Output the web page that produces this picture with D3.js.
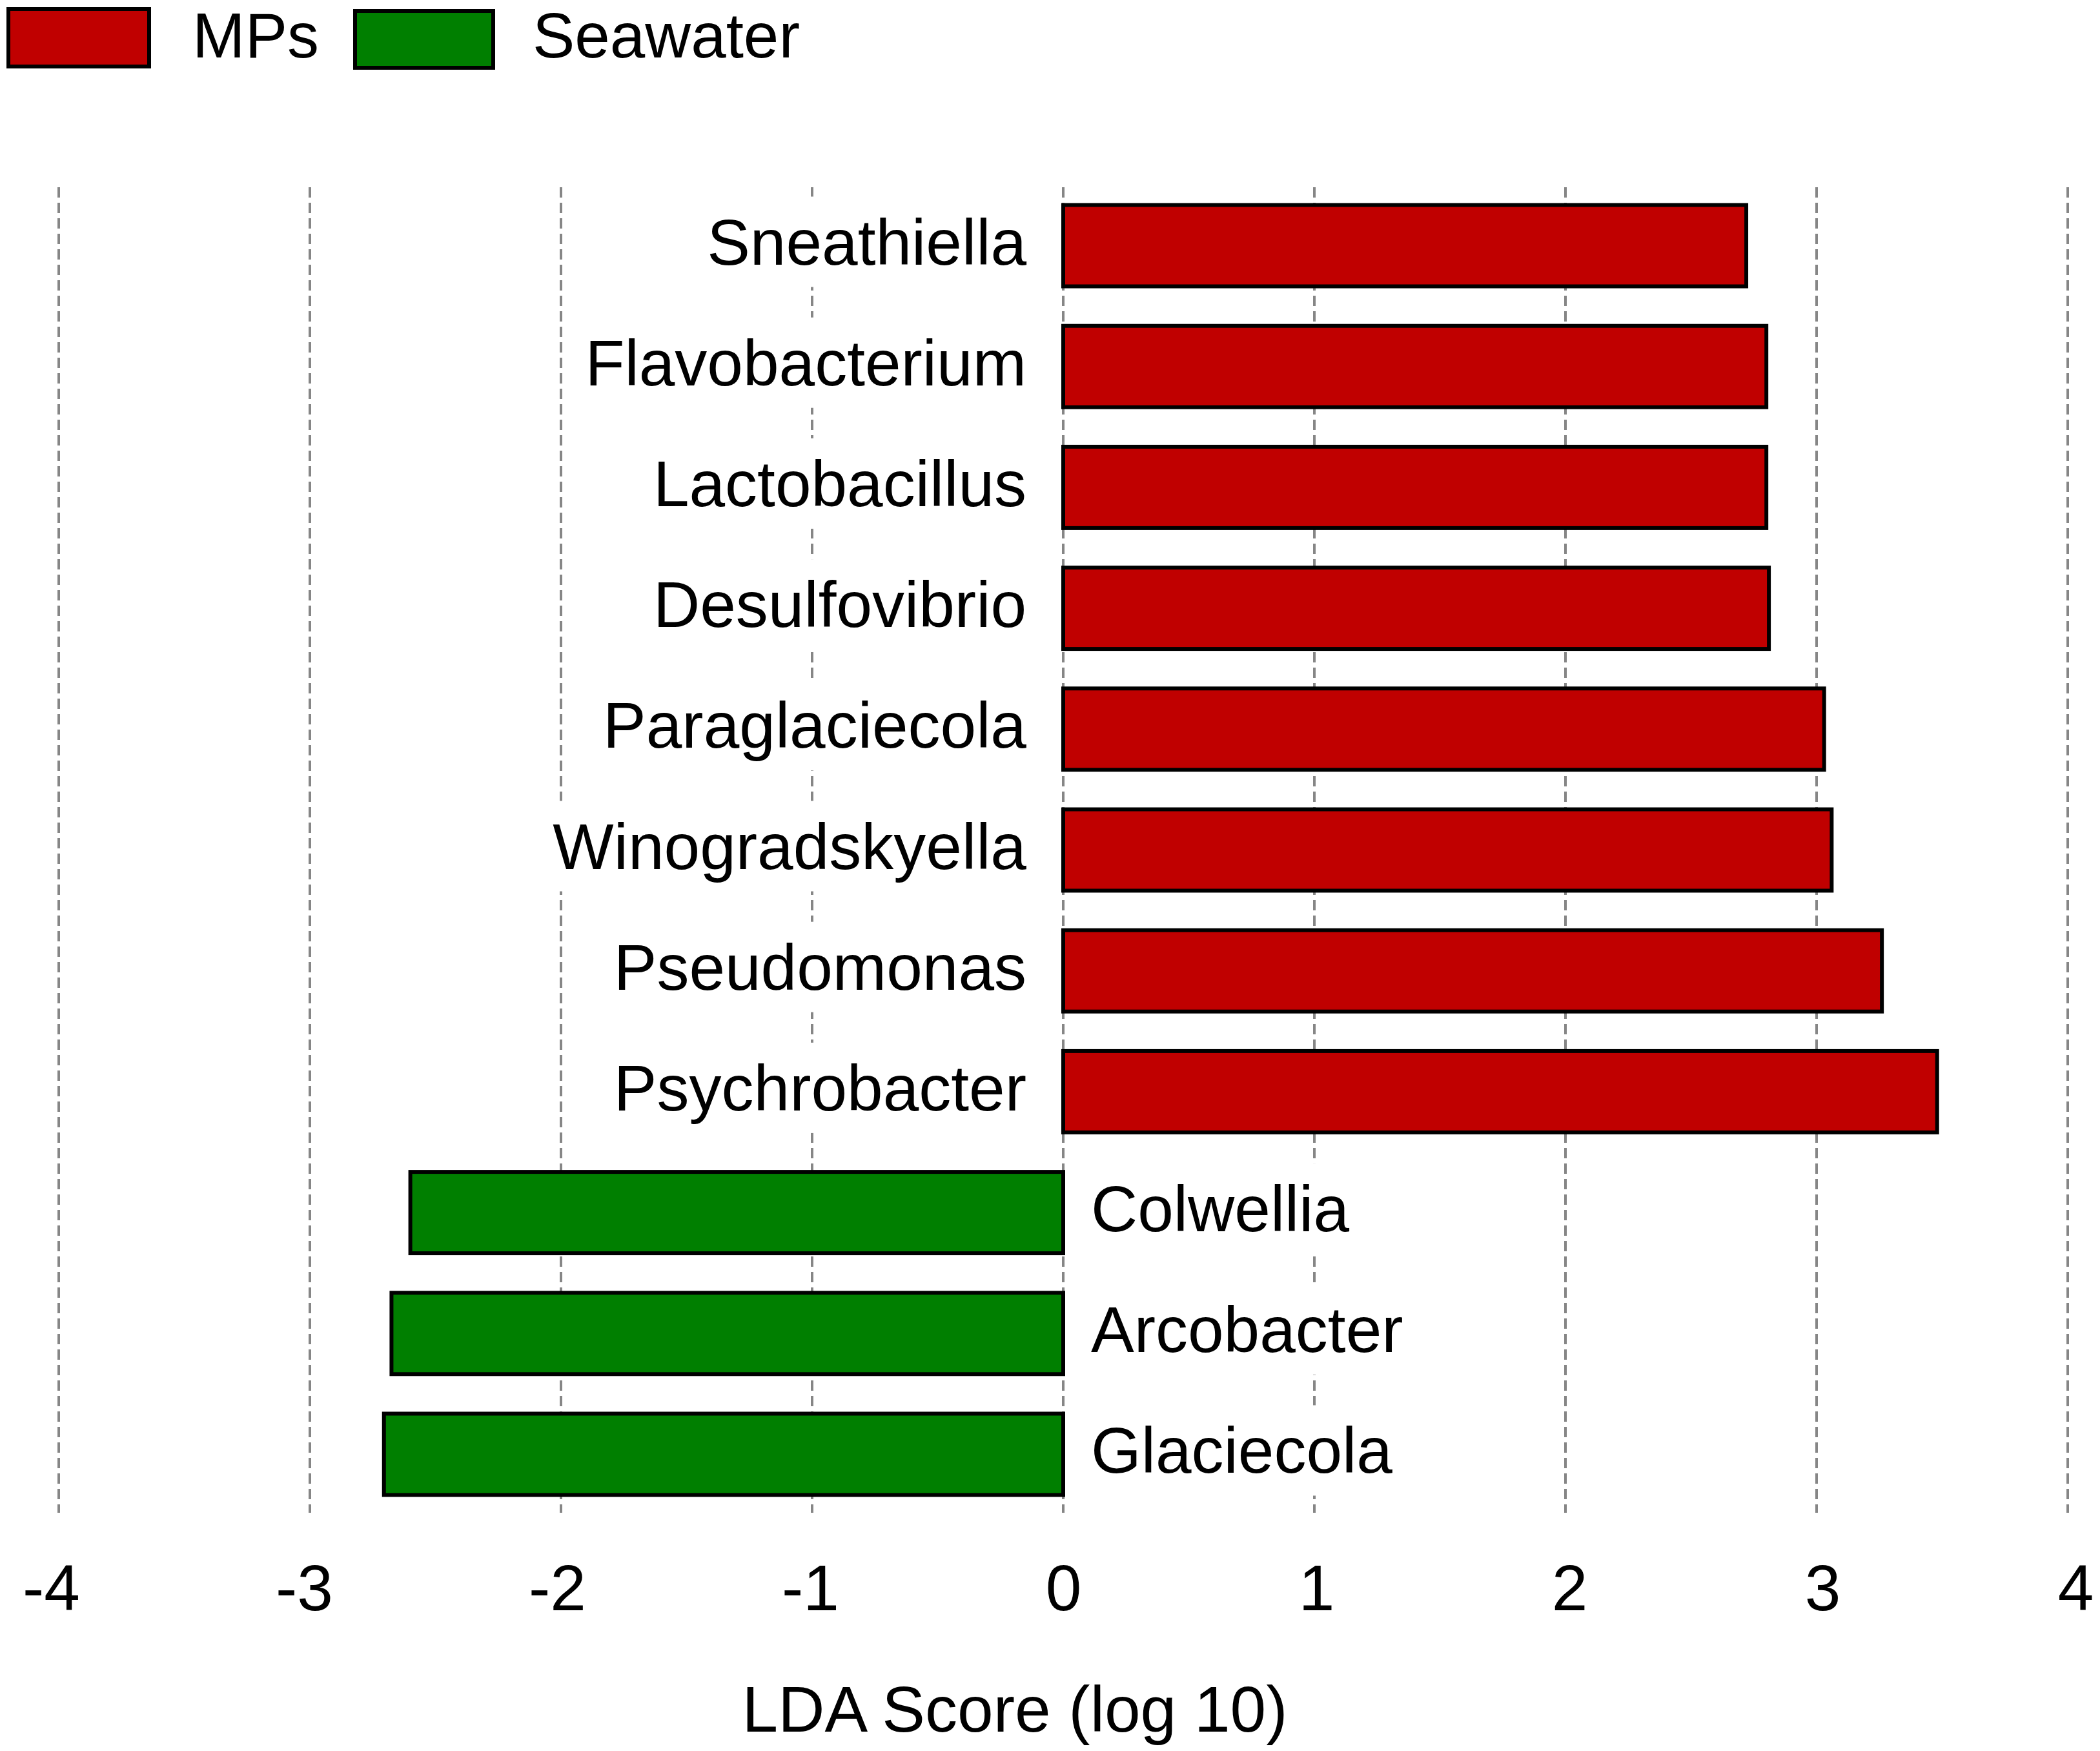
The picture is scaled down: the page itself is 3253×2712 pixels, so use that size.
<!DOCTYPE html>
<html>
<head>
<meta charset="utf-8">
<script src="https://cdn.jsdelivr.net/npm/d3@7"></script>
<style>
html,body{margin:0;padding:0;background:#fff;}
svg{display:block;}
text{font-family:"Liberation Sans",Arial,Helvetica,sans-serif;fill:#000;}
</style>
</head>
<body>
<script>
// ---- data ----
const taxa = ["Sneathiella","Flavobacterium","Lactobacillus","Desulfovibrio","Paraglaciecola","Winogradskyella","Pseudomonas","Psychrobacter","Colwellia","Arcobacter","Glaciecola"];
const ldaScores = [2.72, 2.80, 2.80, 2.81, 3.03, 3.06, 3.26, 3.48, -2.60, -2.675, -2.705];
const groups = ["MPs","MPs","MPs","MPs","MPs","MPs","MPs","MPs","Seawater","Seawater","Seawater"];
const legendGroups = ["MPs","Seawater"];
const groupColors = ["#C00000","#007F00"];
const tickValues = [-4,-3,-2,-1,0,1,2,3,4];
const tickLabels = ["-4","-3","-2","-1","0","1","2","3","4"];
const axisTitle = "LDA Score (log 10)";

// ---- layout ----
const W = 3253, H = 2712;
const svg = d3.select("body").append("svg").attr("width", W).attr("height", H);

const x = d3.scaleLinear().domain([-4, 4]).range([91, 3203]);
const gridTop = 290, gridBottom = 2343;
const y = d3.scaleBand().domain(taxa).range([gridTop, gridBottom]).paddingInner(0.327).paddingOuter(0.147);
const color = d3.scaleOrdinal().domain(legendGroups).range(groupColors);

// gridlines
svg.append("g").selectAll("line").data(tickValues).join("line")
  .attr("x1", d => x(d)).attr("x2", d => x(d))
  .attr("y1", gridTop).attr("y2", gridBottom)
  .attr("stroke", "#868686").attr("stroke-width", 4)
  .attr("stroke-dasharray", "16,8");

// label backgrounds + labels
const data = taxa.map((t, i) => ({name: t, v: ldaScores[i], g: groups[i]}));
const labG = svg.append("g");
const labels = labG.selectAll("text").data(data).join("text")
  .attr("x", d => d.v >= 0 ? x(0) - 57 : x(0) + 43)
  .attr("y", d => y(d.name) + y.bandwidth() / 2 + 29)
  .attr("text-anchor", d => d.v >= 0 ? "end" : "start")
  .attr("font-size", 100)
  .text(d => d.name);
labels.each(function(d) {
  const bb = this.getBBox();
  const cy = y(d.name) + y.bandwidth() / 2;
  labG.insert("rect", "text")
    .attr("x", bb.x - 8).attr("width", bb.width + 16)
    .attr("y", cy - 76).attr("height", 140)
    .attr("fill", "#fff");
});

// bars
svg.append("g").selectAll("rect").data(data).join("rect")
  .attr("x", d => x(Math.min(0, d.v)))
  .attr("width", d => Math.abs(x(d.v) - x(0)))
  .attr("y", d => y(d.name))
  .attr("height", y.bandwidth())
  .attr("fill", d => color(d.g))
  .attr("stroke", "#000").attr("stroke-width", 6);

// x axis labels
const axis = d3.axisBottom(x).tickValues(tickValues)
  .tickFormat((d, i) => tickLabels[i]).tickSize(0).tickPadding(80);
const ax = svg.append("g").attr("transform", `translate(0,${gridBottom})`).call(axis);
ax.select(".domain").remove();
ax.selectAll("text").attr("font-size", 100)
  .attr("font-family", '"Liberation Sans",Arial,Helvetica,sans-serif').attr("fill", "#000")
  .attr("dx", d => d * 3);

// axis title
svg.append("text").attr("x", 1572).attr("y", 2682).attr("text-anchor", "middle")
  .attr("font-size", 100).text(axisTitle);

// legend
const legX = [13, 550], legY = [14, 17], legW = [218, 214], legH = [89, 88], legTX = [298, 825];
const leg = svg.append("g");
legendGroups.forEach((g, i) => {
  leg.append("rect").attr("x", legX[i]).attr("y", legY[i])
    .attr("width", legW[i]).attr("height", legH[i])
    .attr("fill", color(g)).attr("stroke", "#000").attr("stroke-width", 6);
  leg.append("text").attr("x", legTX[i]).attr("y", 89)
    .attr("font-size", 98).text(g);
});
</script>
</body>
</html>
